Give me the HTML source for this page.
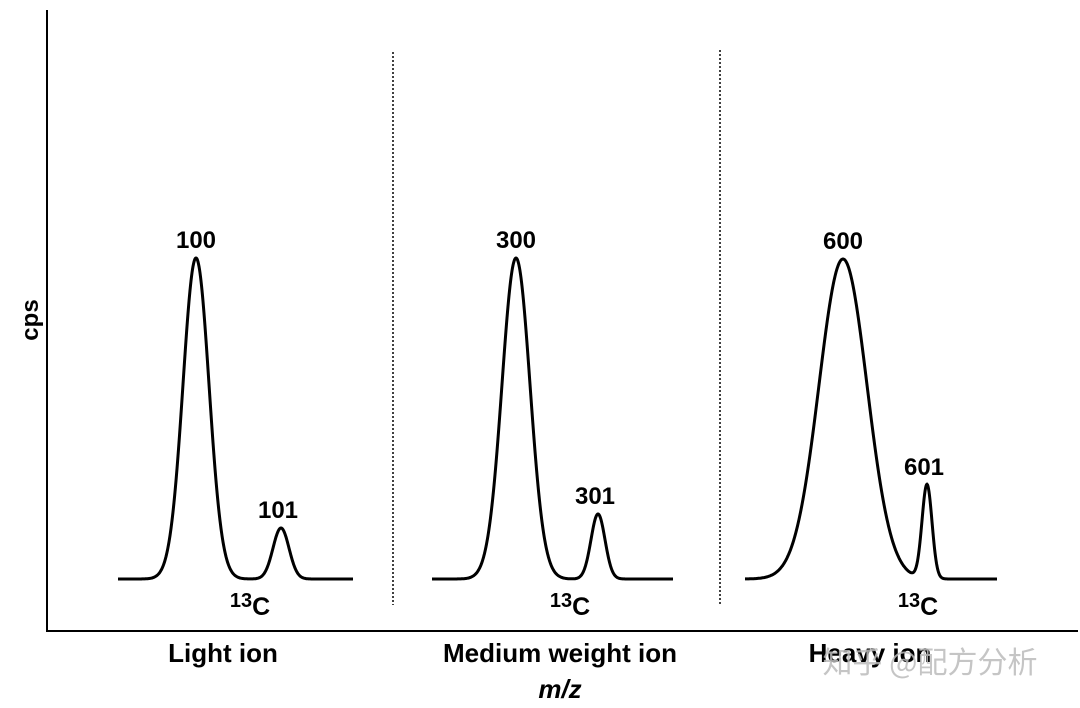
<!DOCTYPE html>
<html><head><meta charset="utf-8"><style>
html,body{margin:0;padding:0;background:#fff;width:1080px;height:708px;overflow:hidden}
svg text{font-family:"Liberation Sans",Arial,sans-serif;font-weight:bold;fill:#000}
</style></head><body>
<svg width="1080" height="708" viewBox="0 0 1080 708">
<line x1="47" y1="10" x2="47" y2="632" stroke="#000" stroke-width="2"/>
<line x1="46" y1="631" x2="1078" y2="631" stroke="#000" stroke-width="2"/>
<line x1="393" y1="52" x2="393" y2="605" stroke="#000" stroke-width="1.5" stroke-dasharray="2,2"/>
<line x1="720" y1="50" x2="720" y2="605" stroke="#000" stroke-width="1.5" stroke-dasharray="2,2"/>
<text x="38" y="320" font-size="24" text-anchor="middle" transform="rotate(-90 38 320)">cps</text>
<text x="223" y="662" font-size="26" text-anchor="middle">Light ion</text>
<text x="560" y="662" font-size="26" text-anchor="middle">Medium weight ion</text>
<text x="870" y="662" font-size="26" text-anchor="middle">Heavy ion</text>
<text x="560" y="698" font-size="26" text-anchor="middle" font-style="italic">m/z</text>
<text x="930" y="673" font-size="30" text-anchor="middle" style="font-family:'Noto Sans CJK SC',sans-serif;font-weight:normal;fill:#bbb;opacity:0.85">知乎 @配方分析</text>
<g id="curves"></g>
</svg>
<script>
const groupNames=["light","medium","heavy"];
const mainMz=["100","300","600"];
const isoMz=["101","301","601"];
const mainPos=[196,516,843];
const mainHeight=[321,321,320];
const mainSigma=[13,14,24];
const isoPos=[281,598,927];
const isoHeight=[51,65,94];
const isoSigma=[8,7,5];
const baseStart=[118,432,745];
const baseEnd=[353,673,997];
const c13Pos=[250,570,918];
const baselineY=579;
const ns="http://www.w3.org/2000/svg";
const g=document.getElementById('curves');
function yScale(v){return baselineY-v;}
function gauss(x,m,h,s){return h*Math.exp(-0.5*Math.pow((x-m)/s,2));}
for(let i=0;i<3;i++){
  let d="";
  for(let x=baseStart[i];x<=baseEnd[i];x+=0.5){
    const v=gauss(x,mainPos[i],mainHeight[i],mainSigma[i])+gauss(x,isoPos[i],isoHeight[i],isoSigma[i]);
    d+=(d?"L":"M")+x.toFixed(1)+","+yScale(v).toFixed(1);
  }
  const p=document.createElementNS(ns,"path");
  p.setAttribute("d",d);p.setAttribute("fill","none");p.setAttribute("stroke","#000");p.setAttribute("stroke-width","3");
  
  
  g.appendChild(p);
  const t1=document.createElementNS(ns,"text");
  t1.setAttribute("x",mainPos[i]);t1.setAttribute("y",yScale(mainHeight[i])-10);t1.setAttribute("font-size","24");t1.setAttribute("text-anchor","middle");
  t1.textContent=mainMz[i];
  
  
  g.appendChild(t1);
  const t2=document.createElementNS(ns,"text");
  t2.setAttribute("x",isoPos[i]-3);t2.setAttribute("y",yScale(isoHeight[i])-10);t2.setAttribute("font-size","24");t2.setAttribute("text-anchor","middle");
  t2.textContent=isoMz[i];
  
  
  g.appendChild(t2);
  const t3=document.createElementNS(ns,"text");
  t3.setAttribute("x",c13Pos[i]);t3.setAttribute("y",baselineY+36);t3.setAttribute("font-size","25");t3.setAttribute("text-anchor","middle");
  t3.innerHTML='<tspan font-size="20" dy="-8">13</tspan><tspan dy="8">C</tspan>';
  
  
  g.appendChild(t3);
}
</script>
</body></html>
